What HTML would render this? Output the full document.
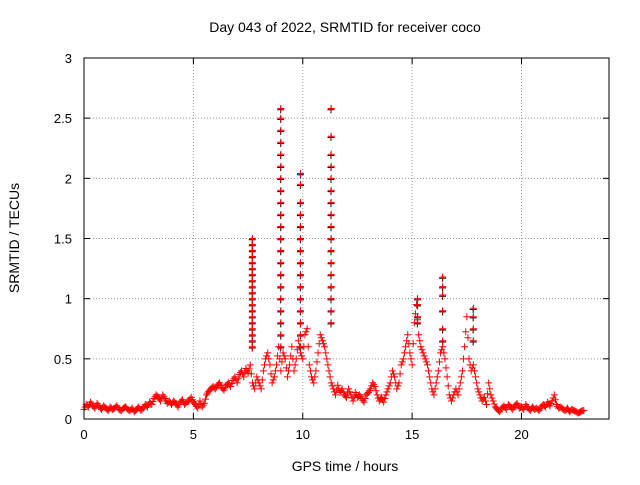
<!DOCTYPE html>
<html><head><meta charset="utf-8"><style>
body{margin:0;background:#fff;}
svg{font-family:"Liberation Sans",sans-serif;}
</style></head><body>
<svg id="c" width="640" height="480">
<rect width="640" height="480" fill="#fff"/>
<g id="grid"></g><g id="marks"></g><g id="axes"></g>
<text x="345" y="32" text-anchor="middle" font-size="14">Day 043 of 2022, SRMTID for receiver coco</text>
<text x="345" y="471" text-anchor="middle" font-size="14">GPS time / hours</text>
<text transform="translate(19,238) rotate(-90)" text-anchor="middle" font-size="14">SRMTID / TECUs</text>
</svg>
<script>
const xTicks=[0,5,10,15,20];
const yTicks=[0,0.5,1,1.5,2,2.5,3];
const yTickLabels=["0","0.5","1","1.5","2","2.5","3"];
const baseValues=[0.08,0.12,0.1,0.14,0.11,0.09,0.13,0.1,0.08,0.11,0.09,0.07,0.1,0.08,0.09,0.11,0.08,0.07,0.09,0.1,
0.08,0.07,0.09,0.06,0.08,0.1,0.07,0.09,0.12,0.1,
0.14,0.12,0.17,0.2,0.18,0.15,0.2,0.17,0.13,0.15,
0.12,0.15,0.13,0.1,0.14,0.16,0.12,0.14,0.15,0.18,
0.14,0.12,0.09,0.15,0.1,0.13,0.2,0.23,0.25,0.27,
0.25,0.28,0.3,0.26,0.24,0.28,0.3,0.27,0.32,0.35,
0.3,0.37,0.4,0.35,0.42,0.38,0.45,0.3,0.25,0.35,
0.3,0.25,0.4,0.5,0.55,0.45,0.3,0.35,0.45,0.6,
0.4,0.55,0.5,0.35,0.45,0.6,0.4,0.5,0.65,0.55,
0.5,0.7,0.75,0.45,0.35,0.3,0.4,0.55,0.7,0.65,
0.6,0.5,0.4,0.3,0.25,0.2,0.28,0.22,0.25,0.2,
0.18,0.25,0.2,0.15,0.22,0.18,0.2,0.17,0.14,0.2,
0.22,0.25,0.3,0.27,0.2,0.15,0.18,0.14,0.2,0.25,
0.3,0.4,0.35,0.25,0.3,0.45,0.5,0.6,0.7,0.55,
0.45,0.8,0.95,0.7,0.6,0.55,0.5,0.45,0.35,0.25,
0.2,0.3,0.4,0.55,0.6,0.5,0.35,0.2,0.15,0.2,
0.25,0.2,0.3,0.4,0.6,0.85,0.5,0.4,0.45,0.35,
0.25,0.2,0.15,0.18,0.12,0.3,0.2,0.15,0.1,0.08,
0.06,0.09,0.11,0.08,0.12,0.1,0.08,0.11,0.13,0.09,
0.1,0.08,0.12,0.09,0.07,0.1,0.08,0.09,0.07,0.1,
0.12,0.1,0.14,0.11,0.15,0.2,0.12,0.09,0.1,0.08,
0.07,0.09,0.06,0.08,0.07,0.06,0.05,0.06,0.07];
const baseStart=0, baseStep=0.1;
const spikeTimes=[7.7,7.7,7.7,7.7,7.7,7.7,7.7,7.7,7.7,7.7,7.7,7.7,7.7,7.7,7.7,7.7,7.7,7.7,7.7,
9.0,9.0,9.0,9.0,9.0,9.0,9.0,9.0,9.0,9.0,9.0,9.0,9.0,9.0,9.0,9.0,9.0,9.0,9.0,9.0,9.0,
9.9,9.9,9.9,9.9,9.9,9.9,9.9,9.9,9.9,9.9,9.9,9.9,9.9,9.9,9.9,
11.3,11.3,11.3,11.3,11.3,11.3,11.3,11.3,11.3,11.3,11.3,11.3,11.3,11.3,11.3,11.3,11.3,
15.25,15.25,15.25,15.25,16.4,16.4,16.4,16.4,16.4,16.4,17.8,17.8,17.8,17.8];
const spikeValues=[0.6,0.65,0.7,0.75,0.8,0.85,0.9,0.95,1.0,1.05,1.1,1.15,1.2,1.25,1.3,1.35,1.4,1.45,1.5,
0.6,0.7,0.8,0.9,1.0,1.1,1.2,1.3,1.4,1.5,1.6,1.7,1.8,1.9,2.0,2.1,2.2,2.3,2.4,2.5,2.58,
0.6,0.7,0.8,0.9,1.0,1.1,1.2,1.3,1.4,1.5,1.6,1.7,1.8,1.95,2.04,
0.8,0.9,1.0,1.1,1.2,1.3,1.4,1.5,1.6,1.7,1.8,1.9,2.0,2.1,2.2,2.35,2.58,
0.8,0.85,0.95,1.0,0.65,0.75,0.9,1.03,1.1,1.18,0.65,0.75,0.85,0.92];
const L=84,R=609,T=58,B=419,XMAX=24,YMAX=3;
const xs=v=>L+(R-L)*v/XMAX, ys=v=>B-(B-T)*v/YMAX;
const NS="http://www.w3.org/2000/svg";
function mk(tag,attrs,parent){const e=document.createElementNS(NS,tag);for(const k in attrs)e.setAttribute(k,attrs[k]);parent.appendChild(e);return e;}
const grid=document.getElementById('grid'),axes=document.getElementById('axes'),marks=document.getElementById('marks');
xTicks.forEach(t=>{const x=xs(t);
 if(t>0){const g=mk('line',{x1:x,x2:x,y1:T,y2:B,stroke:'#999','stroke-dasharray':'1,2','stroke-width':1},grid);
 
 }
 mk('line',{x1:x,x2:x,y1:B,y2:B-6,stroke:'#000'},axes);mk('line',{x1:x,x2:x,y1:T,y2:T+6,stroke:'#000'},axes);
 const tx=mk('text',{x:x,y:B+20,'text-anchor':'middle','font-size':13},axes);tx.textContent=t;
 
 });
yTicks.forEach((t,i)=>{const y=ys(t);
 if(t>0&&t<YMAX){const g=mk('line',{x1:L,x2:R,y1:y,y2:y,stroke:'#999','stroke-dasharray':'1,2','stroke-width':1},grid);
 
 }
 mk('line',{x1:L,x2:L+6,y1:y,y2:y,stroke:'#000'},axes);mk('line',{x1:R,x2:R-6,y1:y,y2:y,stroke:'#000'},axes);
 const tx=mk('text',{x:L-12,y:y+5,'text-anchor':'end','font-size':13},axes);tx.textContent=yTickLabels[i];
 
 });
const fr=mk('rect',{x:L,y:T,width:R-L,height:B-T,fill:'none',stroke:'#000'},axes);


function plus(t,v,color){const x=xs(t),y=ys(v);
 const p=mk('path',{d:`M${x-3.5},${y}H${x+3.5}M${x},${y-3.5}V${y+3.5}`,stroke:color,'stroke-width':1,fill:'none'},marks);
 
 }
spikeTimes.forEach((t,i)=>plus(t-0.01,spikeValues[i]-0.01,'#000'));
baseValues.forEach((v,i)=>{plus(baseStart+i*baseStep,v,'#f00');plus(baseStart+i*baseStep+0.05,(v+(baseValues[i+1]??v))/2,'#f00');});
spikeTimes.forEach((t,i)=>plus(t,spikeValues[i],'#f00'));
</script>
</body></html>
